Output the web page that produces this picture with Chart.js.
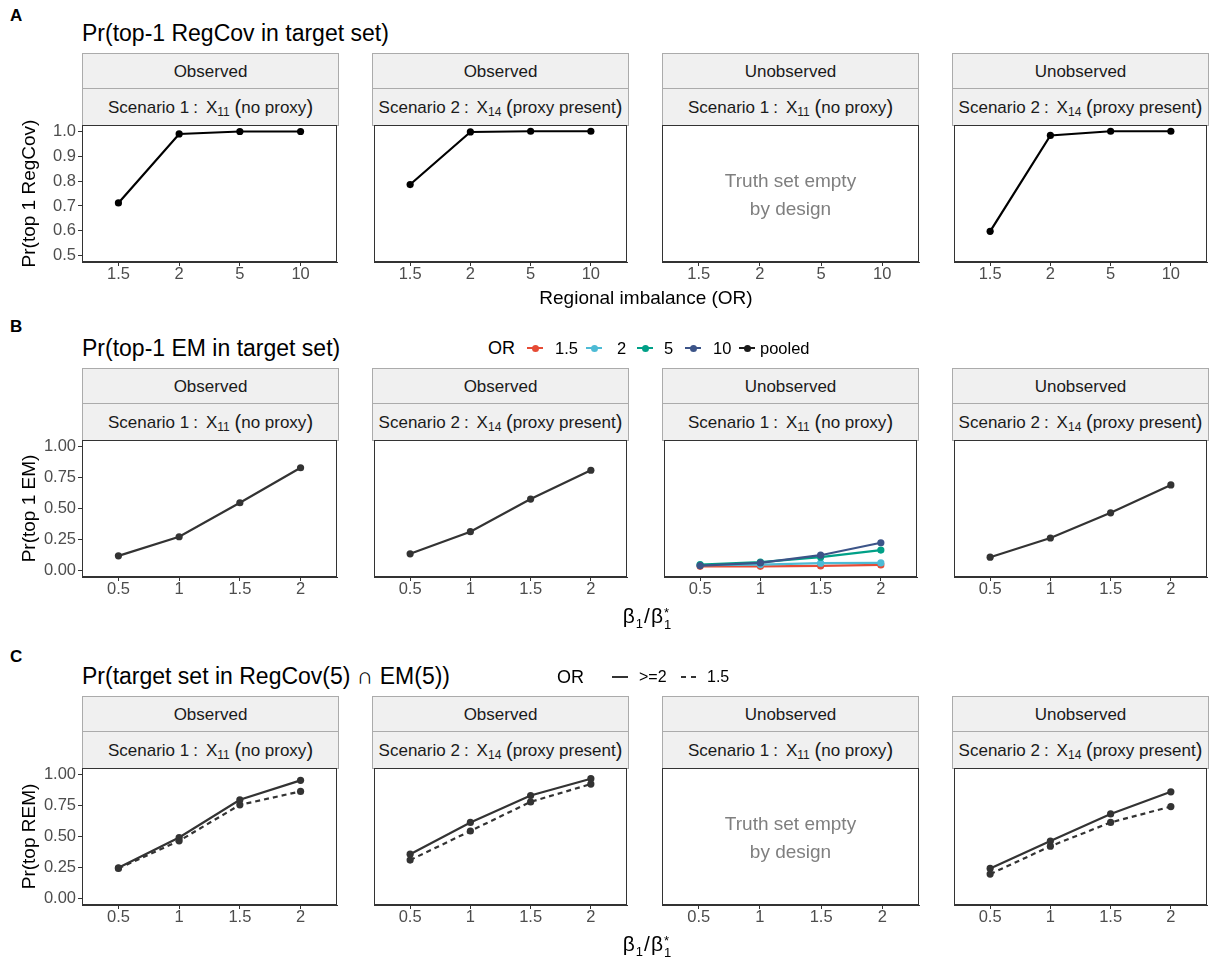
<!DOCTYPE html>
<html><head><meta charset="utf-8">
<script src="https://cdn.jsdelivr.net/npm/chart.js@4.4.1/dist/chart.umd.min.js"></script>
<style>
html,body{margin:0;padding:0;background:#fff}
body{position:relative;width:1214px;height:962px;overflow:hidden;font-family:"Liberation Sans",Arial,sans-serif;color:#000}
.t{position:absolute;white-space:nowrap;line-height:1}
.strip{position:absolute;box-sizing:border-box;background:#F0F0F0;border:1px solid #ABABAB;display:flex;align-items:center;justify-content:center;font-size:17px;color:#1A1A1A;white-space:nowrap;line-height:1}
canvas{position:absolute}
.sb{font-size:12px;position:relative;top:5px}
.pr{font-size:20px}
.col{margin:0 8px 0 4px}
.key{position:absolute;height:2px}
.dot{position:absolute;width:7px;height:7px;border-radius:50%}
.stk{display:inline-flex;flex-direction:column;vertical-align:middle;font-size:13px;line-height:1;margin-left:1px}
</style></head><body>
<script>
// ---------- data ----------
const orLevels = ['1.5', '2', '5', '10'];
const betaRatio = ['0.5', '1', '1.5', '2'];
const yTicksA = [0.5, 0.6, 0.7, 0.8, 0.9, 1.0];
const yTicksBC = [0, 0.25, 0.5, 0.75, 1.0];
const facetTop = ['Observed', 'Observed', 'Unobserved', 'Unobserved'];
const facetScenario = ['Scenario 1|11|no proxy', 'Scenario 2|14|proxy present', 'Scenario 1|11|no proxy', 'Scenario 2|14|proxy present'];
const legendOR = ['1.5', '2', '5', '10', 'pooled'];
const legendLine = ['>=2', '1.5'];

// Row A: Pr(top-1 RegCov in target set)
const regcovObsS1 = [0.712, 0.989, 0.999, 0.999];
const regcovObsS2 = [0.786, 0.997, 1.0, 1.0];
const regcovUnobsS2 = [0.598, 0.983, 1.0, 1.0];

// Row B: Pr(top-1 EM in target set)
const emPooledObsS1 = [0.120, 0.273, 0.546, 0.827];
const emPooledObsS2 = [0.136, 0.314, 0.576, 0.807];
const emPooledUnobsS2 = [0.109, 0.263, 0.465, 0.689];
const emUnobsS1_OR1_5 = [0.036, 0.036, 0.039, 0.047];
const emUnobsS1_OR2 = [0.045, 0.050, 0.061, 0.063];
const emUnobsS1_OR5 = [0.049, 0.069, 0.109, 0.166];
const emUnobsS1_OR10 = [0.042, 0.063, 0.125, 0.225];

// Row C: Pr(target set in RegCov(5) ∩ EM(5))
const remObsS1_ge2 = [0.249, 0.492, 0.795, 0.951];
const remObsS1_1_5 = [0.244, 0.465, 0.754, 0.862];
const remObsS2_ge2 = [0.358, 0.613, 0.829, 0.964];
const remObsS2_1_5 = [0.311, 0.544, 0.778, 0.921];
const remUnobsS2_ge2 = [0.244, 0.463, 0.681, 0.859];
const remUnobsS2_1_5 = [0.198, 0.422, 0.613, 0.740];

const orColors = ['#E64B35', '#4DBBD5', '#00A087', '#3C5488', '#1A1A1A'];

// ---------- layout ----------
const panelLeft = [82, 372, 662, 952];
const PW = 257, PH = 137;
Chart.defaults.font.family = '"Liberation Sans", Arial, sans-serif';

function txt(html, x, y, css, center) {
  const d = document.createElement('div');
  d.className = 't';
  d.innerHTML = html;
  d.style.cssText += css;
  d.style.left = x + 'px';
  d.style.top = y + 'px';
  d.style.transform = center ? 'translate(-50%,-50%)' : 'translate(0,-50%)';
  document.body.appendChild(d);
  return d;
}

function scenHTML(s) {
  const [a, sub, b] = s.split('|');
  const parts = a.split(' ');
  return parts[0] + ' ' + parts[1] + '<span class="col">:</span>X<span class="sb">' + sub + '</span>&nbsp;<span class="pr">(</span>' + b + '<span class="pr">)</span>';
}

function strips(stripTop) {
  for (let c = 0; c < 4; c++) {
    const s1 = document.createElement('div');
    s1.className = 'strip';
    s1.style.cssText += `left:${panelLeft[c]}px;top:${stripTop}px;width:${PW}px;height:36px;`;
    s1.textContent = facetTop[c];
    document.body.appendChild(s1);
    const s2 = document.createElement('div');
    s2.className = 'strip';
    s2.style.cssText += `left:${panelLeft[c]}px;top:${stripTop + 35}px;width:${PW}px;height:38px;`;
    s2.innerHTML = scenHTML(facetScenario[c]);
    document.body.appendChild(s2);
  }
}

const frame = {
  id: 'frame',
  afterDraw(c) {
    const a = c.chartArea, x = c.ctx;
    x.save();
    x.strokeStyle = '#333333';
    x.lineWidth = 1;
    x.strokeRect(Math.round(a.left) + 0.5, Math.round(a.top) + 0.5, Math.round(a.right - a.left) - 1, Math.round(a.bottom - a.top) - 1);
    x.restore();
  }
};

function ds(values, color, dash, order) {
  return {
    data: values.map((v, i) => ({ x: i, y: v })),
    borderColor: color, backgroundColor: color,
    borderWidth: 2.2, borderDash: dash || [],
    pointRadius: 3.6, pointBorderWidth: 0, pointBackgroundColor: color,
    tension: 0, order: order || 0
  };
}

function panel(col, plotTop, datasets, xLabels, yMin, yMax, yTicks, yDec, yTitle) {
  const first = col === 0;
  const cv = document.createElement('canvas');
  const cw = first ? 82 + PW + 2 : PW + 4;
  const ch = 12 + PH + 32;
  cv.width = cw; cv.height = ch;
  cv.style.left = (first ? 0 : panelLeft[col] - 2) + 'px';
  cv.style.top = (plotTop - 12) + 'px';
  cv.style.width = cw + 'px'; cv.style.height = ch + 'px';
  document.body.appendChild(cv);
  new Chart(cv, {
    type: 'line',
    data: { datasets },
    plugins: [frame],
    options: {
      responsive: false, animation: false, events: [],
      layout: { padding: { left: first ? 0 : 2, right: 2, top: 12, bottom: 0 } },
      plugins: { legend: { display: false }, tooltip: { enabled: false } },
      scales: {
        x: {
          type: 'linear', min: -0.6, max: 3.6,
          afterBuildTicks: s => { s.ticks = xLabels.map((_, i) => ({ value: i })); },
          afterFit: s => { s.height = 32; },
          ticks: { callback: v => xLabels[v], font: { size: 16.5, lineHeight: 1 }, color: '#4D4D4D', padding: 0, maxRotation: 0, autoSkip: false },
          grid: { drawOnChartArea: false, drawTicks: true, tickLength: 4, color: '#333333', lineWidth: 1 },
          border: { display: true, color: '#333333', width: 1 }
        },
        y: {
          display: first, min: yMin, max: yMax,
          afterBuildTicks: s => { s.ticks = yTicks.map(v => ({ value: v })); },
          afterFit: s => { s.width = first ? 82 : 0; },
          ticks: { callback: v => v.toFixed(yDec), font: { size: 16.5 }, color: '#4D4D4D', padding: 2 },
          grid: { drawOnChartArea: false, drawTicks: true, tickLength: 4, color: '#333333', lineWidth: 1 },
          border: { display: true, color: '#333333', width: 1 },
          title: { display: first, text: yTitle, font: { size: 19 }, color: '#000', padding: { top: 18, bottom: 0 } }
        }
      }
    }
  });
}

function emptyText(col, plotTop) {
  const cx = panelLeft[col] + PW / 2, cy = plotTop + PH / 2;
  txt('Truth set empty', cx, cy - 14, 'font-size:19px;color:#7F7F7F;', true);
  txt('by design', cx, cy + 14, 'font-size:19px;color:#7F7F7F;', true);
}

function betaTitle(y) {
  txt('β<span style="font-size:13px;position:relative;top:5px;margin-left:1px">1</span><span style="margin:0 1px">/</span>β<span class="stk"><span style="position:relative;top:2px">*</span><span style="position:relative;top:1px">1</span></span>', 647, y, 'font-size:21px;color:#000;', true);
}

// ---------- Row A ----------
txt('<b>A</b>', 10, 15, 'font-size:17px;', false);
txt('Pr(top-1 RegCov in target set)', 82, 33, 'font-size:23px;', false);
strips(53);
const aTop = 125;
panel(0, aTop, [ds(regcovObsS1, '#000000')], orLevels, 0.475, 1.025, yTicksA, 1, 'Pr(top 1 RegCov)');
panel(1, aTop, [ds(regcovObsS2, '#000000')], orLevels, 0.475, 1.025, yTicksA, 1, '');
panel(2, aTop, [], orLevels, 0.475, 1.025, yTicksA, 1, '');
emptyText(2, aTop);
panel(3, aTop, [ds(regcovUnobsS2, '#000000')], orLevels, 0.475, 1.025, yTicksA, 1, '');
txt('Regional imbalance (OR)', 646, 297, 'font-size:19px;', true);

// ---------- Row B ----------
txt('<b>B</b>', 10, 326, 'font-size:17px;', false);
txt('Pr(top-1 EM in target set)', 82, 348, 'font-size:23px;', false);
txt('OR', 488, 348, 'font-size:18px;', false);
const keyB = [[527, 555], [586, 617], [637, 664], [685, 713], [739, 760]];
legendOR.forEach((lab, i) => {
  const k = document.createElement('div');
  k.className = 'key';
  k.style.cssText += `left:${keyB[i][0]}px;top:${347}px;width:16px;background:${orColors[i]};`;
  document.body.appendChild(k);
  const d = document.createElement('div');
  d.className = 'dot';
  d.style.cssText += `left:${keyB[i][0] + 4.5}px;top:${344.5}px;background:${orColors[i]};`;
  document.body.appendChild(d);
  txt(lab, keyB[i][1], 348, 'font-size:16.5px;', false);
});
strips(368);
const bTop = 440;
panel(0, bTop, [ds(emPooledObsS1, '#333333')], betaRatio, -0.05, 1.05, yTicksBC, 2, 'Pr(top 1 EM)');
panel(1, bTop, [ds(emPooledObsS2, '#333333')], betaRatio, -0.05, 1.05, yTicksBC, 2, '');
panel(2, bTop, [
  ds(emUnobsS1_OR10, orColors[3], null, 0),
  ds(emUnobsS1_OR5, orColors[2], null, 1),
  ds(emUnobsS1_OR2, orColors[1], null, 2),
  ds(emUnobsS1_OR1_5, orColors[0], null, 3)
], betaRatio, -0.05, 1.05, yTicksBC, 2, '');
panel(3, bTop, [ds(emPooledUnobsS2, '#333333')], betaRatio, -0.05, 1.05, yTicksBC, 2, '');
betaTitle(617);

// ---------- Row C ----------
txt('<b>C</b>', 10, 656, 'font-size:17px;', false);
txt('Pr(target set in RegCov(5) ∩ EM(5))', 82, 676, 'font-size:23px;', false);
txt('OR', 557, 677, 'font-size:18px;', false);
{
  const k1 = document.createElement('div');
  k1.className = 'key';
  k1.style.cssText += 'left:612px;top:676px;width:16px;background:#333;';
  document.body.appendChild(k1);
  txt(legendLine[0], 639, 677, 'font-size:16px;', false);
  const k2 = document.createElement('div');
  k2.className = 'key';
  k2.style.cssText += 'left:681px;top:676px;width:5px;background:#333;';
  document.body.appendChild(k2);
  const k3 = document.createElement('div');
  k3.className = 'key';
  k3.style.cssText += 'left:691px;top:676px;width:5px;background:#333;';
  document.body.appendChild(k3);
  txt(legendLine[1], 707, 677, 'font-size:16px;', false);
}
strips(696);
const cTop = 768;
const dash = [5, 4];
panel(0, cTop, [ds(remObsS1_ge2, '#333333'), ds(remObsS1_1_5, '#333333', dash)], betaRatio, -0.05, 1.05, yTicksBC, 2, 'Pr(top REM)');
panel(1, cTop, [ds(remObsS2_ge2, '#333333'), ds(remObsS2_1_5, '#333333', dash)], betaRatio, -0.05, 1.05, yTicksBC, 2, '');
panel(2, cTop, [], betaRatio, -0.05, 1.05, yTicksBC, 2, '');
emptyText(2, cTop);
panel(3, cTop, [ds(remUnobsS2_ge2, '#333333'), ds(remUnobsS2_1_5, '#333333', dash)], betaRatio, -0.05, 1.05, yTicksBC, 2, '');
betaTitle(945);
</script>
</body></html>
